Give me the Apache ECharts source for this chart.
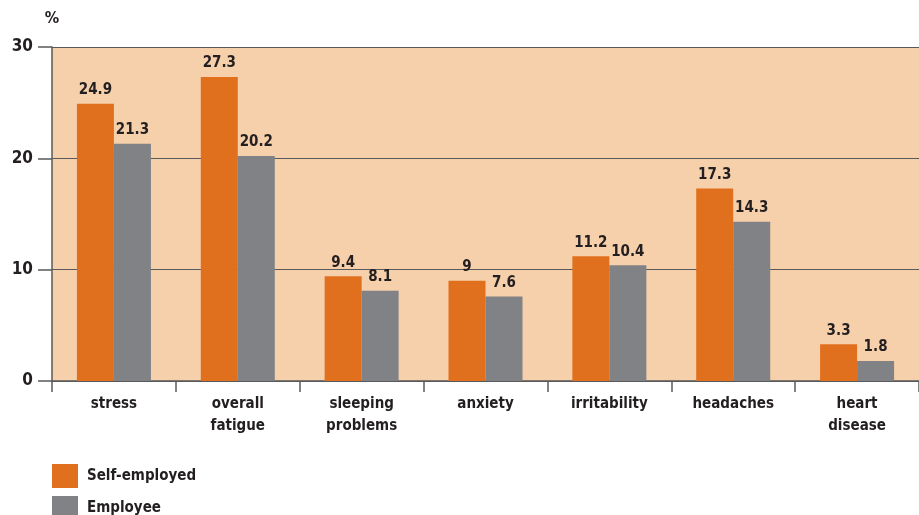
<!DOCTYPE html>
<html>
<head>
<meta charset="utf-8">
<script src="https://cdn.jsdelivr.net/npm/echarts@6/dist/echarts.min.js"></script>
<style>
  html, body { margin: 0; padding: 0; background: #fff; }
  #chart { width: 919px; height: 515px; }
</style>
</head>
<body>
<div id="chart"></div>
<script>
// Health complaints by employment status (%)
const categories = ['stress', 'overall\nfatigue', 'sleeping\nproblems', 'anxiety', 'irritability', 'headaches', 'heart\ndisease'];
const selfEmployed = [24.9, 27.3, 9.4, 9, 11.2, 17.3, 3.3];
const employee = [21.3, 20.2, 8.1, 7.6, 10.4, 14.3, 1.8];
const yTicks = { min: 0, max: 30, step: 10 };

const FONT = '"DejaVu Sans Condensed", "Liberation Sans", sans-serif';
const TEXT = '#231f20';
const LINE = '#58595b';

const chart = echarts.init(document.getElementById('chart'), null, { renderer: 'canvas' });

const labelStyle = {
  show: true,
  position: 'top',
  distance: 6,
  color: TEXT,
  fontFamily: FONT,
  fontWeight: 'bold',
  fontSize: 15
};

const legendText = { color: TEXT, fontFamily: FONT, fontWeight: 'bold', fontSize: 15, padding: [0, 0, 0, 4] };

chart.setOption({
  animation: false,
  textStyle: { fontFamily: FONT },
  grid: {
    left: 52, right: 0, top: 47, bottom: 134,
    show: true, backgroundColor: '#f6cfab', borderWidth: 0
  },
  // one legend per row so the two entries stack
  legend: [
    {
      left: 52, top: 464, padding: 0,
      itemWidth: 26, itemHeight: 24, icon: 'rect',
      textStyle: legendText,
      data: ['Self-employed']
    },
    {
      left: 52, top: 496, padding: 0,
      itemWidth: 26, itemHeight: 24, icon: 'rect',
      textStyle: legendText,
      data: ['Employee']
    }
  ],
  xAxis: {
    type: 'category',
    data: categories,
    axisLine: { lineStyle: { color: LINE, width: 1.5 } },
    axisTick: { show: true, length: 11, lineStyle: { color: LINE, width: 1.5 } },
    axisLabel: {
      color: TEXT, fontFamily: FONT, fontWeight: 'bold', fontSize: 15,
      margin: 12, lineHeight: 22, interval: 0
    }
  },
  yAxis: {
    type: 'value',
    min: yTicks.min, max: yTicks.max, interval: yTicks.step,
    name: '%',
    nameLocation: 'end',
    nameGap: 20,
    nameTextStyle: { color: TEXT, fontFamily: FONT, fontWeight: 'bold', fontSize: 16, align: 'center' },
    axisLine: { show: true, lineStyle: { color: LINE, width: 1.5 } },
    axisTick: { show: true, length: 14, lineStyle: { color: LINE, width: 1.5 } },
    axisLabel: { color: TEXT, fontFamily: FONT, fontWeight: 'bold', fontSize: 17, margin: 19 },
    splitLine: { show: true, lineStyle: { color: LINE, width: 1.2 } }
  },
  series: [
    {
      name: 'Self-employed', type: 'bar', data: selfEmployed,
      barWidth: 37, barGap: '0%',
      itemStyle: { color: '#e0701e' },
      label: labelStyle
    },
    {
      name: 'Employee', type: 'bar', data: employee,
      barWidth: 37,
      itemStyle: { color: '#808285' },
      label: labelStyle
    }
  ]
});
</script>
</body>
</html>
